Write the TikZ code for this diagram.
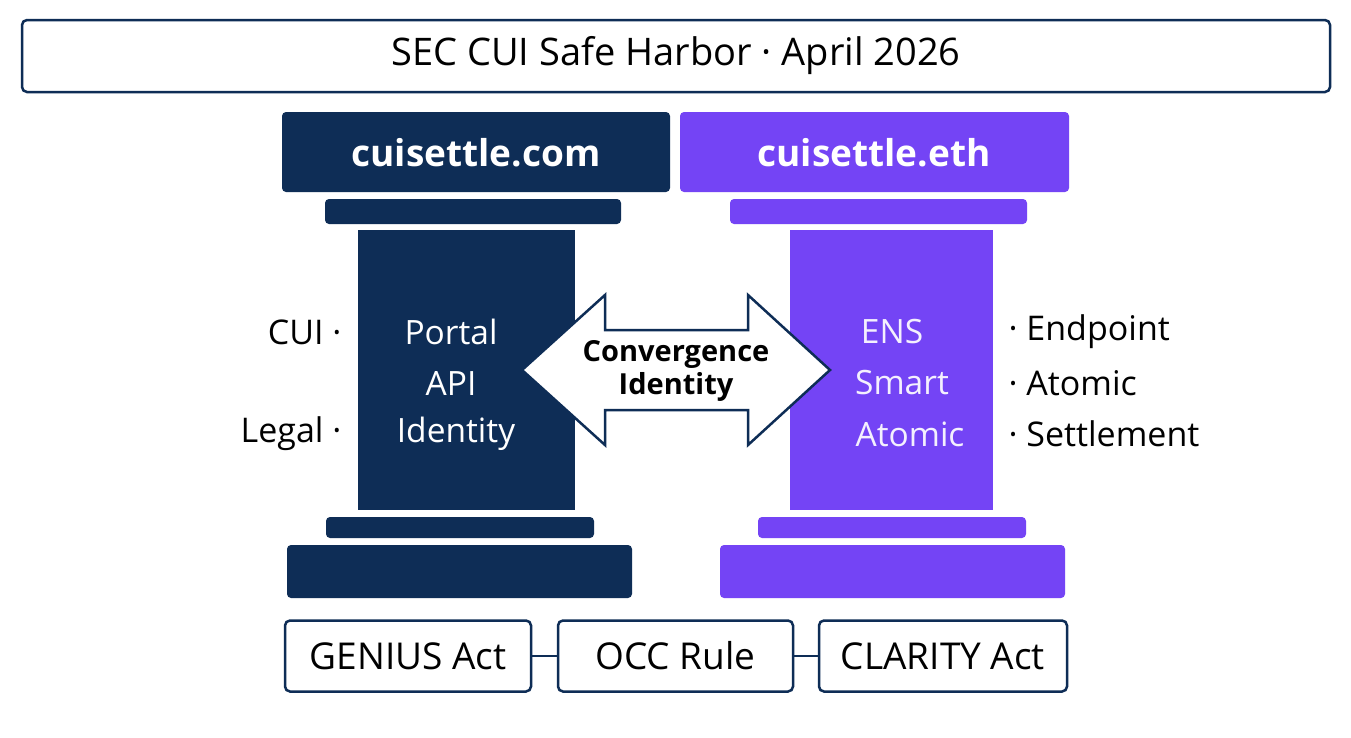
\documentclass[tikz,border=0pt]{standalone}
\usepackage{fontspec}
\setmainfont{Open Sans}
\usetikzlibrary{shapes.arrows}
\definecolor{navy}{HTML}{0E2D56}
\definecolor{purp}{HTML}{7444F5}
\begin{document}
\begin{tikzpicture}[x=1pt,y=-1pt,
  blk/.style={rounded corners=4pt,draw=none},
  box/.style={draw=navy,line width=2.5pt,rounded corners=5pt,fill=white},
  lbl/.style={font=\fontsize{34}{38}\selectfont},
  wlbl/.style={font=\fontsize{33.5}{38}\selectfont,text=white}]
\useasboundingbox (0,0) rectangle (1351,737);
\fill[white] (0,0) rectangle (1351,737);
\node[box,minimum width=1308,minimum height=72,font=\fontsize{38}{42}\selectfont] (title) at (676,56) {SEC CUI Safe Harbor · April 2026};
% left pillar
\fill[navy,blk] (282,112) rectangle (670,192);
\node[text=white,font=\bfseries\fontsize{37}{42}\selectfont] (lt) at (476,153) {cuisettle.com};
\fill[navy,blk] (325,199) rectangle (621,224);
\fill[navy] (358,230) rectangle (575,510);
\fill[navy,blk] (326,517) rectangle (594,538);
\fill[navy,blk] (287,545) rectangle (632,598);
% right pillar
\fill[purp,blk] (680,112) rectangle (1069,192);
\node[text=white,font=\bfseries\fontsize{37}{42}\selectfont] (rt) at (874,153) {cuisettle.eth};
\fill[purp,blk] (730,199) rectangle (1027,224);
\fill[purp] (790,230) rectangle (993,510);
\fill[purp,blk] (758,517) rectangle (1026,538);
\fill[purp,blk] (720,545) rectangle (1065,598);
% arrow
\draw[navy,line width=2.5pt,fill=white,line join=miter] (522,370) -- (605,295) -- (605,330) -- (748,330) -- (748,295) -- (830,370) -- (748,445) -- (748,410) -- (605,410) -- (605,445) -- cycle;
\node[align=center,font=\bfseries\fontsize{29}{33}\selectfont] (conv) at (676,371) {Convergence\\Identity};
% shaft texts
\node[wlbl] (p1) at (451,332) {Portal};
\node[wlbl] (p2) at (451,383) {API};
\node[wlbl] (p3) at (456,434) {Identity};
\node[wlbl,text=white!92!purp] (e1) at (892,332) {ENS};
\node[wlbl,text=white!92!purp] (e2) at (902,383) {Smart};
\node[wlbl,text=white!92!purp] (e3) at (910,434) {Atomic};
\node[lbl,anchor=east] (s1) at (345,332) {CUI ·};
\node[lbl,anchor=east] (s2) at (345,434) {Legal ·};
\node[lbl,anchor=west] (r1) at (1005,332) {· Endpoint};
\node[lbl,anchor=west] (r2) at (1005,383) {· Atomic};
\node[lbl,anchor=west] (r3) at (1005,434) {· Settlement};
% bottom
\node[box,minimum width=246,minimum height=71,font=\fontsize{37}{42}\selectfont] (g) at (408,656) {GENIUS Act};
\node[box,minimum width=235,minimum height=71,font=\fontsize{37}{42}\selectfont] (o) at (675.5,656) {OCC Rule};
\node[box,minimum width=248,minimum height=71,font=\fontsize{37}{42}\selectfont] (c) at (943,656) {CLARITY Act};
\draw[navy,line width=2.5pt] (g) -- (o);
\draw[navy,line width=2.5pt] (o) -- (c);
\end{tikzpicture}
\end{document}
